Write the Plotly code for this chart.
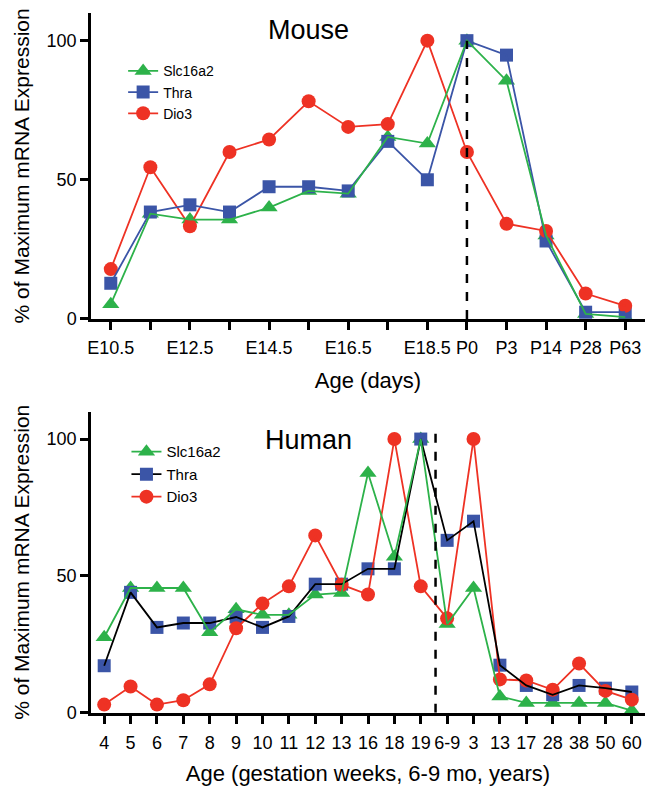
import plotly.graph_objects as go

# ---------------- data ----------------
mouse_ages = ["E10.5", "E11.5", "E12.5", "E13.5", "E14.5", "E15.5", "E16.5",
              "E17.5", "E18.5", "P0", "P3", "P14", "P28", "P63"]
mouse_ticklabels = ["E10.5", "", "E12.5", "", "E14.5", "", "E16.5",
                    "", "E18.5", "P0", "P3", "P14", "P28", "P63"]
mouse_slc16a2 = [5.3, 37.8, 35.7, 35.7, 40.0, 46.0, 45.0, 65.4, 63.0, 100, 85.6, 30.0, 1.8, 0.6]
mouse_thra = [12.8, 38.4, 41.0, 38.4, 47.5, 47.5, 46.0, 63.8, 50.0, 100, 94.8, 28.0, 2.4, 2.4]
mouse_dio3 = [17.9, 54.5, 33.3, 60.0, 64.5, 78.2, 69.0, 70.0, 100, 60.0, 34.2, 31.6, 9.1, 4.7]

human_ticklabels = ["4", "5", "6", "7", "8", "9", "10", "11", "12", "13", "16", "18", "19",
                    "6-9", "3", "13", "17", "28", "38", "50", "60"]
human_slc16a2 = [27.6, 45.6, 45.6, 45.6, 29.4, 37.8, 35.8, 35.8, 43.2, 43.8, 87.6, 57.0, 100,
                 32.4, 45.6, 6.0, 3.6, 3.6, 3.6, 3.6, 0.8]
human_thra = [17.2, 44.0, 31.2, 32.8, 32.8, 35.0, 31.2, 35.2, 47.0, 47.0, 52.6, 52.6, 100,
              63.0, 70.0, 17.4, 10.0, 6.6, 10.0, 9.0, 7.6]
human_dio3 = [3.0, 9.6, 3.0, 4.6, 10.4, 30.9, 39.9, 46.2, 64.8, 46.8, 43.2, 100, 46.2,
              34.5, 100, 12.2, 11.8, 8.4, 18.0, 8.0, 4.8]

GREEN = "#2DB24A"
BLUE = "#3B55A7"
RED = "#EE3224"
FONT = "Arial, Liberation Sans, Helvetica, sans-serif"

mx = list(range(len(mouse_ages)))
hx = list(range(len(human_ticklabels)))

fig = go.Figure()

def add_panel(x, slc, thra, dio, xa, ya, thra_line, legend):
    # markers (bottom to top: green, blue, red)
    fig.add_trace(go.Scatter(x=x, y=slc, mode="markers", xaxis=xa, yaxis=ya, showlegend=False,
                             cliponaxis=False,
                             marker=dict(symbol="triangle-up", size=15, color=GREEN)))
    fig.add_trace(go.Scatter(x=x, y=thra, mode="markers", xaxis=xa, yaxis=ya, showlegend=False,
                             cliponaxis=False,
                             marker=dict(symbol="square", size=13, color=BLUE)))
    fig.add_trace(go.Scatter(x=x, y=dio, mode="markers", xaxis=xa, yaxis=ya, showlegend=False,
                             cliponaxis=False,
                             marker=dict(symbol="circle", size=14, color=RED)))
    # lines on top
    fig.add_trace(go.Scatter(x=x, y=dio, mode="lines", xaxis=xa, yaxis=ya, showlegend=False,
                             cliponaxis=False, line=dict(color=RED, width=1.8)))
    fig.add_trace(go.Scatter(x=x, y=thra, mode="lines", xaxis=xa, yaxis=ya, showlegend=False,
                             cliponaxis=False, line=dict(color=thra_line, width=1.8)))
    fig.add_trace(go.Scatter(x=x, y=slc, mode="lines", xaxis=xa, yaxis=ya, showlegend=False,
                             cliponaxis=False, line=dict(color=GREEN, width=1.8)))
    # legend entries
    for name, sym, col, lcol, sz in [("Slc16a2", "triangle-up", GREEN, GREEN, 15),
                                     ("Thra", "square", BLUE, thra_line, 13),
                                     ("Dio3", "circle", RED, RED, 14)]:
        fig.add_trace(go.Scatter(x=[None], y=[None], mode="lines+markers", name=name,
                                 xaxis=xa, yaxis=ya, legend=legend,
                                 marker=dict(symbol=sym, size=sz, color=col),
                                 line=dict(color=lcol, width=1.8)))

add_panel(mx, mouse_slc16a2, mouse_thra, mouse_dio3, "x", "y", BLUE, "legend")
add_panel(hx, human_slc16a2, human_thra, human_dio3, "x2", "y2", "#000000", "legend2")

axis_common = dict(showgrid=False, zeroline=False, showline=True, linecolor="black",
                   linewidth=2.5, ticks="outside", ticklen=8, tickwidth=2.5, tickcolor="black",
                   tickfont=dict(family=FONT, size=18, color="black"))

fig.update_layout(
    width=645, height=786,
    margin=dict(l=91, r=0, t=0, b=0),
    paper_bgcolor="white", plot_bgcolor="white",
    font=dict(family=FONT, color="black"),
    xaxis=dict(axis_common, domain=[0, 1], range=[-0.5, 13.5], tickmode="array",
               tickvals=mx, ticktext=mouse_ticklabels, anchor="y", ticklabelstandoff=3,
               title=dict(text="Age (days)", font=dict(size=22, family=FONT), standoff=16)),
    yaxis=dict(axis_common, domain=[1 - 323 / 786, 1 - 13 / 786], range=[0, 110],
               tickvals=[0, 50, 100], anchor="x",
               title=dict(text="% of Maximum mRNA Expression", font=dict(size=21, family=FONT),
                          standoff=12)),
    xaxis2=dict(axis_common, domain=[0, 1], range=[-0.5, 20.5], tickmode="array",
                tickvals=hx, ticktext=human_ticklabels, anchor="y2", ticklabelstandoff=4,
                title=dict(text="Age (gestation weeks, 6-9 mo, years)",
                           font=dict(size=22, family=FONT), standoff=16)),
    yaxis2=dict(axis_common, domain=[1 - 722 / 786, 1 - 417 / 786], range=[0, 110],
                tickvals=[0, 50, 100], anchor="x2",
                title=dict(text="% of Maximum mRNA Expression", font=dict(size=21, family=FONT),
                           standoff=12)),
    legend=dict(x=0.058, y=1 - 56 / 786, xanchor="left", yanchor="top",
                font=dict(family=FONT, size=14, color="black"), bgcolor="rgba(0,0,0,0)",
                itemwidth=30, tracegroupgap=0),
    legend2=dict(x=0.064, y=1 - 441 / 786, xanchor="left", yanchor="top",
                 font=dict(family=FONT, size=15, color="black"), bgcolor="rgba(0,0,0,0)",
                 itemwidth=30, tracegroupgap=0),
    shapes=[
        dict(type="line", xref="x", yref="y", x0=9, x1=9, y0=0, y1=100,
             line=dict(color="black", width=2.5, dash="dash")),
        dict(type="line", xref="x2", yref="y2", x0=12.56, x1=12.56, y0=0, y1=105,
             line=dict(color="black", width=2.5, dash="dash")),
    ],
    annotations=[
        dict(text="Mouse", xref="paper", yref="paper", x=(308 - 91) / 554, y=1 - 30 / 786,
             xanchor="center", yanchor="middle", showarrow=False,
             font=dict(family=FONT, size=27, color="black")),
        dict(text="Human", xref="paper", yref="paper", x=(308 - 91) / 554, y=1 - 446 / 786,
             xanchor="center", yanchor="middle", showarrow=False,
             font=dict(family=FONT, size=27, color="black")),
    ],
)

fig.write_html("out.html", post_script="document.body.style.margin='0px';",
               config={"displayModeBar": False})
